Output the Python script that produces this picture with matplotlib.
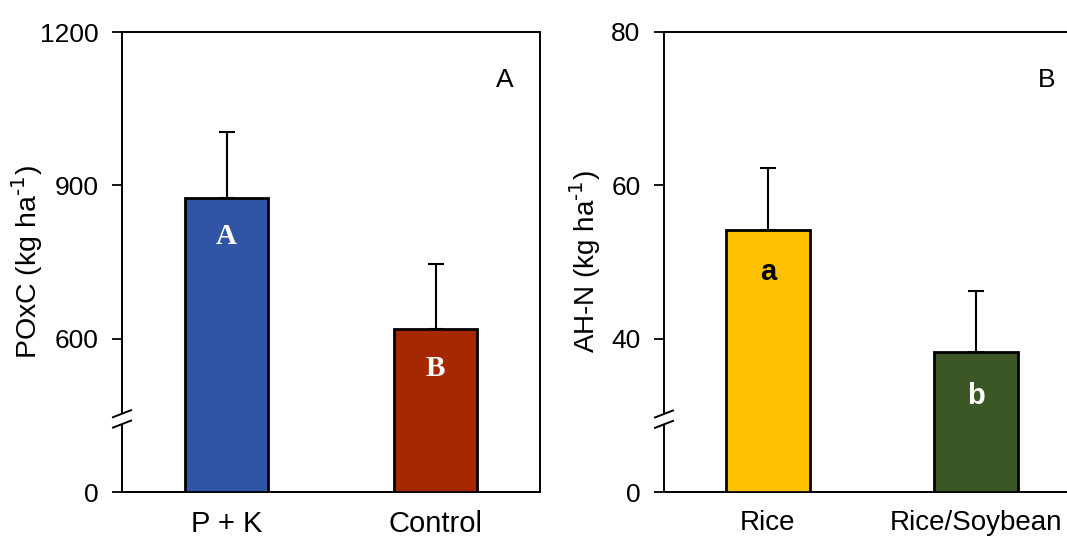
import numpy as np
import matplotlib
matplotlib.use("Agg")
import matplotlib.pyplot as plt
from matplotlib.patches import Polygon
from matplotlib.lines import Line2D

plt.rcParams['font.family'] = ['Liberation Sans', 'DejaVu Sans']
plt.rcParams['mathtext.default'] = 'regular'

# ---- data ----
cats_a = ["P + K", "Control"]
poxc = [876, 618]
poxc_err = [129, 128]
letters_a = ["A", "B"]
colors_a = ["#2F55A4", "#A62800"]

cats_b = ["Rice", "Rice/Soybean"]
ahn = [54.2, 38.2]
ahn_err = [8.1, 8.0]
letters_b = ["a", "b"]
colors_b = ["#FFC000", "#3B5726"]
letter_colors_b = ["black", "white"]

yticks_a = [0, 600, 900, 1200]
yticks_b = [0, 40, 60, 80]

W, H = 1067, 539
fig = plt.figure(figsize=(W / 100, H / 100), dpi=100)


def make_scale(lo, b):
    # values in [0, b] are squeezed into [lo, b]; linear above b
    def fwd(v):
        v = np.asarray(v, dtype=float)
        return np.where(v < b, lo + v * (b - lo) / b, v)

    def inv(u):
        u = np.asarray(u, dtype=float)
        return np.where(u < b, (u - lo) * b / (b - lo), u)
    return fwd, inv


def break_mark(ax, yfrac):
    trans = ax.transAxes
    dx = 9 / ax.bbox.width
    dy = 3.5 / ax.bbox.height
    g = 5.2 / ax.bbox.height
    poly = Polygon([(-dx, yfrac - g - dy), (dx, yfrac - g + dy),
                    (dx, yfrac + g + dy), (-dx, yfrac + g - dy)],
                   closed=True, transform=trans, facecolor='white',
                   edgecolor='none', clip_on=False, zorder=10)
    ax.add_patch(poly)
    for s in (-g, g):
        ln = Line2D([-dx, dx], [yfrac + s - dy, yfrac + s + dy],
                    transform=trans, color='black', lw=1.4,
                    clip_on=False, zorder=11)
        ax.add_line(ln)


def panel(rect, cats, vals, errs, colors, letters, lcolors, lfont, lo, b,
          ymax, yticks, ylabel, tag, right_spine, label_x, off, xfs, yfs):
    ax = fig.add_axes(rect)
    fwd, inv = make_scale(lo, b)
    ax.set_yscale('function', functions=(fwd, inv))
    x = np.arange(len(cats))
    ax.bar(x, vals, width=0.4, color=colors, edgecolor='black',
           linewidth=2.0, zorder=3)
    ax.errorbar(x, vals, yerr=[np.zeros(len(errs)), errs], fmt='none',
                ecolor='black', elinewidth=1.5, capsize=5.5, capthick=1.5,
                zorder=2)
    ax.set_xlim(-0.5, 1.5)
    ax.set_ylim(0, ymax)
    ax.set_yticks(yticks)
    ax.set_yticklabels([str(t) for t in yticks])
    ax.yaxis.set_minor_locator(matplotlib.ticker.NullLocator())
    ax.set_xticks(x)
    ax.set_xticklabels(cats)
    ax.tick_params(axis='y', direction='out', length=7, width=1.3,
                   pad=10, labelsize=19)
    ax.tick_params(axis='x', length=0, pad=13, labelsize=xfs)
    for s in ax.spines.values():
        s.set_linewidth(1.4)
    ax.spines['right'].set_visible(right_spine)
    ax.set_ylabel(ylabel, fontsize=yfs)
    ax.yaxis.set_label_coords(label_x, 0.5)
    for i, (v, t, c, o) in enumerate(zip(vals, letters, lcolors, off)):
        ax.annotate(t, xy=(i, v), xytext=(0, -o), textcoords='offset pixels',
                    ha='center', va='baseline', color=c, fontsize=lfont[1],
                    fontweight='bold', family=lfont[0], zorder=5)
    ax.text(tag[1], 0.895, tag[0], transform=ax.transAxes, fontsize=19,
            ha='center', va='center')
    break_mark(ax, (b - lo) / (ymax - lo))
    return ax


B, Hh = 47, 460
panel([122 / W, B / H, 418 / W, Hh / H], cats_a, poxc, poxc_err, colors_a,
      letters_a, ['white', 'white'], ('Liberation Serif', 21), 300, 443, 1200,
      yticks_a, 'POxC (kg ha$^{\\text{-1}}$)', ('A', (505 - 122) / 418), True,
      (45 - 122) / 418, [46, 47], 21, 20.5)

panel([664 / W, B / H, 416 / W, Hh / H], cats_b, ahn, ahn_err, colors_b,
      letters_b, letter_colors_b, ('Liberation Sans', 21), 20, 29.5, 80,
      yticks_b, 'AH-N (kg ha$^{\\text{-1}}$)', ('B', (1047 - 664) / 416), False,
      (603 - 664) / 416, [50, 52], 20, 20)

fig.savefig('out.png', dpi=100)
